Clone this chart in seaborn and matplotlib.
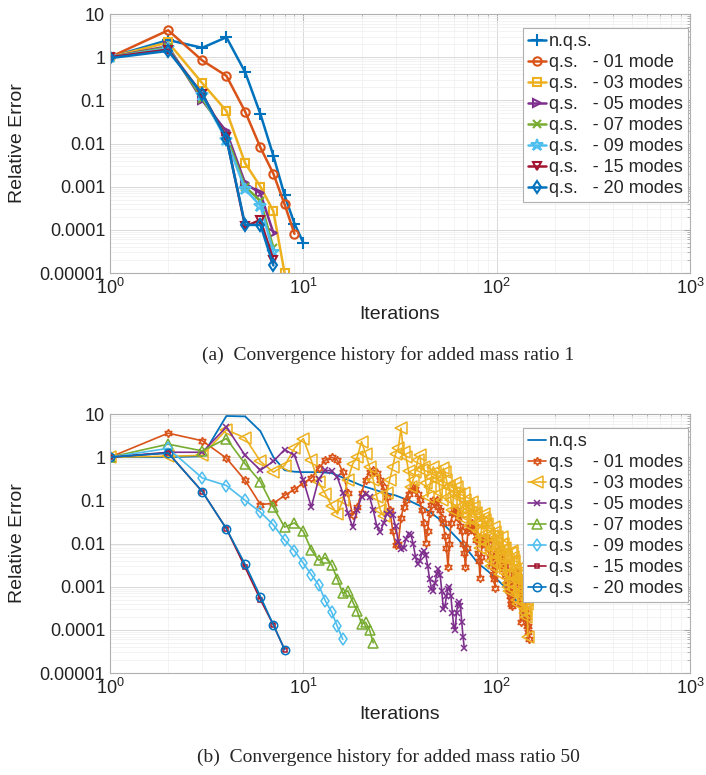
import numpy as np
import pandas as pd
import matplotlib
matplotlib.use("Agg")
import matplotlib.pyplot as plt
import seaborn as sns

sns.set_style("white")
plt.rcParams['font.family'] = ['Liberation Sans', 'DejaVu Sans']
plt.rcParams['mathtext.fontset'] = 'custom'
plt.rcParams['mathtext.rm'] = 'Liberation Sans'
plt.rcParams['mathtext.default'] = 'regular'

# matlab default colour order
colors = ['#0072BD', '#D95319', '#EDB120', '#7E2F8E', '#77AC30', '#4DBEEE', '#A2142F', '#0072BD']

# ---- added mass ratio 1 ----
labels_a = ['n.q.s.', 'q.s.   - 01 mode', 'q.s.   - 03 modes', 'q.s.   - 05 modes',
            'q.s.   - 07 modes', 'q.s.   - 09 modes', 'q.s.   - 15 modes', 'q.s.   - 20 modes']
nqs_a = [1.0, 2.5, 1.65, 2.9, 0.45, 0.048, 0.0052, 0.00063, 0.00014, 0.00005]
m01_a = [1.0, 4.2, 0.84, 0.37, 0.055, 0.0081, 0.002, 0.00039, 0.000081]
m03_a = [1.0, 2.2, 0.25, 0.057, 0.0035, 0.001, 0.00027, 0.00001]
m05_a = [1.0, 1.8, 0.1, 0.019, 0.0012, 0.0007, 0.000085]
m07_a = [1.0, 1.7, 0.11, 0.015, 0.001, 0.00047, 0.000038]
m09_a = [1.0, 1.6, 0.13, 0.012, 0.00087, 0.00036, 0.00003]
m15_a = [1.0, 1.5, 0.14, 0.014, 0.00012, 0.00017, 0.00002]
m20_a = [0.95, 1.4, 0.14, 0.013, 0.00013, 0.00013, 0.000015]
markers_a = ['+', 'o', 's', '>', 'x', '*', 'v', 'd']

# ---- added mass ratio 50 ----
labels_b = ['n.q.s', 'q.s    - 01 modes', 'q.s    - 03 modes', 'q.s    - 05 modes',
            'q.s    - 07 modes', 'q.s    - 09 modes', 'q.s    - 15 modes', 'q.s    - 20 modes']
nqs_b_iter = [1, 2, 3, 4, 5, 6, 7, 8, 9, 10, 12, 14, 17, 20, 25, 30, 35, 40, 45, 50,
              55, 60, 65, 70, 80, 90, 100, 110, 120, 130, 140, 143]
nqs_b = [1.0, 1.0, 1.05, 9.0, 8.8, 4.0, 1.0, 0.5, 0.46, 0.45, 0.45, 0.43, 0.3, 0.22, 0.16,
         0.13, 0.1, 0.075, 0.055, 0.038, 0.024, 0.016, 0.011, 0.0075, 0.0035, 0.0023,
         0.0015, 0.001, 0.00065, 0.0004, 0.0002, 0.00012]
m01_b = [1.0, 3.6, 2.4, 0.95, 0.29, 0.08, 0.085, 0.13, 0.18, 0.25,
         0.33, 0.55, 0.85, 1.0, 0.85, 0.45, 0.15, 0.045, 0.07, 0.15,
         0.3, 0.45, 0.5, 0.42, 0.3, 0.2, 0.12, 0.06, 0.02, 0.009,
         0.01, 0.04, 0.07, 0.1, 0.14, 0.17, 0.19, 0.18, 0.14, 0.1,
         0.06, 0.03, 0.0105, 0.02, 0.05, 0.08, 0.1, 0.09, 0.1, 0.07,
         0.06, 0.04, 0.03, 0.015, 0.008, 0.0028, 0.01, 0.03, 0.05, 0.06,
         0.055, 0.06, 0.04, 0.045, 0.025, 0.02, 0.01, 0.006, 0.0028, 0.008,
         0.02, 0.025, 0.03, 0.022, 0.03, 0.02, 0.025, 0.012, 0.015, 0.006,
         0.004, 0.0016, 0.005, 0.01, 0.012, 0.014, 0.01, 0.014, 0.012, 0.008,
         0.01, 0.005, 0.006, 0.003, 0.0035, 0.002, 0.0015, 0.00095, 0.003, 0.005,
         0.006, 0.007, 0.0055, 0.007, 0.005, 0.006, 0.0035, 0.004, 0.0025, 0.003,
         0.0018, 0.002, 0.0012, 0.0013, 0.0009, 0.0008, 0.0006, 0.0005, 0.0004, 0.00035,
         0.0009, 0.0015, 0.002, 0.0023, 0.0018, 0.0022, 0.0015, 0.0018, 0.0011, 0.0012,
         0.0008, 0.0004, 0.00015, 0.0006, 0.0008, 0.0006, 0.0007, 0.0004, 0.0005, 0.0003,
         0.00025, 0.00018, 0.00012, 0.0002, 0.00012, 0.00009, 0.00006]
m03_b = [1.0, 1.05, 1.1, 4.3, 2.8, 0.8, 0.45, 0.64, 1.6, 2.7,
         0.84, 0.26, 0.14, 0.075, 0.048, 0.1, 0.3, 0.7, 1.0, 2.3,
         1.2, 0.6, 0.3, 0.12, 0.06, 0.044, 0.15, 0.3, 0.6, 1.2,
         1.6, 4.7, 1.3, 1.0, 0.49, 0.2, 0.3, 0.45, 0.84, 1.1,
         0.5, 0.6, 0.25, 0.12, 0.2, 0.35, 0.6, 0.45, 0.3, 0.35,
         0.15, 0.1, 0.55, 0.45, 0.3, 0.2, 0.22, 0.1, 0.06, 0.15,
         0.25, 0.2, 0.12, 0.14, 0.07, 0.04, 0.05, 0.15, 0.1, 0.07,
         0.08, 0.04, 0.025, 0.05, 0.09, 0.07, 0.045, 0.05, 0.03, 0.02,
         0.012, 0.008, 0.015, 0.03, 0.04, 0.048, 0.035, 0.025, 0.028, 0.015,
         0.01, 0.006, 0.004, 0.003, 0.008, 0.015, 0.024, 0.018, 0.012, 0.014,
         0.008, 0.005, 0.003, 0.002, 0.005, 0.01, 0.014, 0.01, 0.007, 0.008,
         0.005, 0.003, 0.002, 0.0012, 0.001, 0.0008, 0.002, 0.004, 0.006, 0.0068,
         0.005, 0.0035, 0.004, 0.0025, 0.0015, 0.001, 0.0007, 0.0005, 0.0004, 0.0008,
         0.0015, 0.0022, 0.0028, 0.002, 0.0014, 0.0015, 0.0009, 0.0006, 0.0004, 0.0003,
         0.00025, 0.0002, 0.0005, 0.0004, 0.00007]
m05_b = [1.0, 1.3, 1.3, 5.0, 1.1, 0.5, 0.8, 1.5, 1.1, 0.29,
         0.07, 0.31, 0.5, 0.48, 0.34, 0.15, 0.05, 0.024, 0.06, 0.12,
         0.14, 0.12, 0.06, 0.025, 0.018, 0.03, 0.048, 0.053, 0.045, 0.025,
         0.011, 0.0074, 0.008, 0.013, 0.017, 0.016, 0.01, 0.005, 0.0033, 0.004,
         0.006, 0.0068, 0.0055, 0.003, 0.0015, 0.0009, 0.0008, 0.0012, 0.002, 0.0025,
         0.0019, 0.0008, 0.0003, 0.00035, 0.0006, 0.0009, 0.001, 0.0006, 0.00025, 0.00012,
         0.0001, 0.00025, 0.0004, 0.00043, 0.00035, 0.00015, 0.00007, 0.000038]
m07_b = [1.0, 2.0, 1.4, 2.7, 0.7, 0.27, 0.069, 0.024, 0.03, 0.019,
         0.0071, 0.0041, 0.0047, 0.0032, 0.0015, 0.0007, 0.0008, 0.00045, 0.00027, 0.00014,
         0.00015, 0.0001, 0.00005]
m09_b = [1.0, 1.6, 0.33, 0.22, 0.1, 0.053, 0.027, 0.012, 0.0068, 0.0035,
         0.0019, 0.0011, 0.00047, 0.00026, 0.00012, 0.00006]
m15_b = [1.0, 1.25, 0.16, 0.022, 0.0028, 0.0005, 0.00013, 0.000035]
m20_b = [1.0, 1.25, 0.16, 0.022, 0.0033, 0.00059, 0.00013, 0.000035]
markers_b = [None, (6, 1, 0), '<', 'x', '^', 'd', 's', 'o']
msize_b = [0, 6, 9, 4, 7, 6, 3, 6]

ytick_vals = [1e-5, 1e-4, 1e-3, 1e-2, 1e-1, 1, 10]
ytick_text = ['0.00001', '0.0001', '0.001', '0.01', '0.1', '1', '10']


def style_axes(ax):
    ax.set_xscale('log')
    ax.set_yscale('log')
    ax.set_xlim(1, 1000)
    ax.set_ylim(1e-5, 10)
    ax.set_yticks(ytick_vals)
    ax.set_yticklabels(ytick_text)
    ax.grid(which='major', color='#d9d9d9', lw=0.7)
    ax.grid(which='minor', color='#efefef', lw=0.5)
    ax.tick_params(which='both', direction='in', top=True, right=True,
                   labelsize=13, colors='#a8a8a8', labelcolor='#222222')
    ax.tick_params(which='major', length=4)
    ax.tick_params(which='minor', length=2)
    for s in ax.spines.values():
        s.set_color('#b0b0b0')
        s.set_linewidth(0.8)
    ax.set_xlabel('Iterations', fontsize=14, color='#222222', labelpad=6)
    ax.set_ylabel('Relative Error', fontsize=14, color='#222222', labelpad=10)


fig = plt.figure(figsize=(7.06, 7.75), dpi=100)
ax1 = fig.add_axes([0.1558, 0.6477, 0.8215, 0.3342])
ax2 = fig.add_axes([0.1558, 0.1316, 0.8215, 0.3342])

series_a = [nqs_a, m01_a, m03_a, m05_a, m07_a, m09_a, m15_a, m20_a]
for i, vals in enumerate(series_a):
    it = np.arange(1, len(vals) + 1)
    ms = 9 if markers_a[i] in ('+', '*') else 6
    sns.lineplot(x=it, y=vals, ax=ax1, color=colors[i], lw=1.8, marker=markers_a[i],
                 markersize=ms, markerfacecolor='none', markeredgecolor=colors[i],
                 markeredgewidth=1.5, label=labels_a[i], sort=False, estimator=None)

series_b = [nqs_b, m01_b, m03_b, m05_b, m07_b, m09_b, m15_b, m20_b]
for i, vals in enumerate(series_b):
    it = nqs_b_iter if i == 0 else np.arange(1, len(vals) + 1)
    if markers_b[i] is None:
        sns.lineplot(x=it, y=vals, ax=ax2, color=colors[i], lw=1.3,
                     label=labels_b[i], sort=False, estimator=None)
    else:
        sns.lineplot(x=it, y=vals, ax=ax2, color=colors[i], lw=1.2, marker=markers_b[i],
                     markersize=msize_b[i], markerfacecolor='none', markeredgecolor=colors[i],
                     markeredgewidth=1.1, label=labels_b[i], sort=False, estimator=None)

for ax in (ax1, ax2):
    style_axes(ax)
    leg = ax.legend(loc='upper right', bbox_to_anchor=(0.997, 0.947), borderaxespad=0,
                    fontsize=13, handlelength=1.0, handletextpad=0.15, labelspacing=0.22,
                    borderpad=0.3, fancybox=False, framealpha=1, edgecolor='#b0b0b0')
    leg.get_frame().set_linewidth(0.8)

fig.text(0.55, 1 - 355 / 775, '(a)  Convergence history for added mass ratio 1',
         ha='center', va='center', fontsize=14, family='Liberation Serif')
fig.text(0.55, 1 - 757 / 775, '(b)  Convergence history for added mass ratio 50',
         ha='center', va='center', fontsize=14, family='Liberation Serif')

fig.savefig('out.png', dpi=100)
